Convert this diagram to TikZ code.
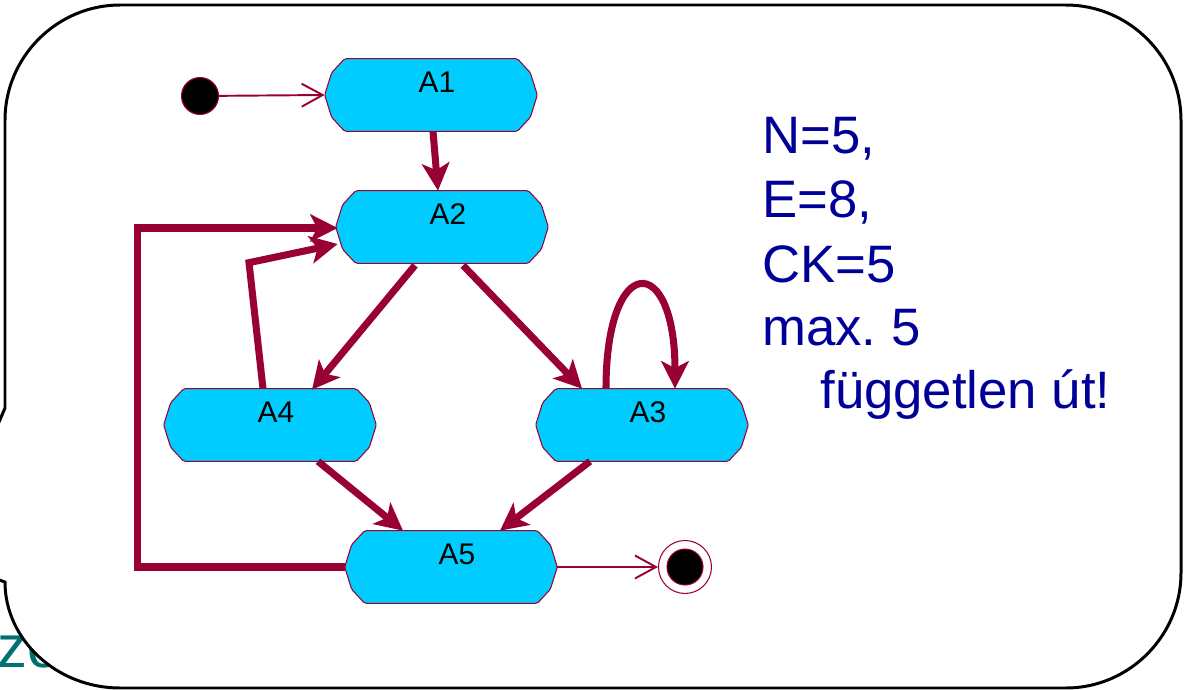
\documentclass[tikz,border=0pt]{standalone}
\usepackage{fontspec}
\setmainfont{Liberation Sans}
\usepackage{tikz}
\usepackage{xcolor}
\usetikzlibrary{arrows.meta}
\usetikzlibrary{calc}
\usetikzlibrary{backgrounds}

\definecolor{flowred}{HTML}{990033}
\definecolor{actblue}{HTML}{00CCFF}
\definecolor{statblue}{HTML}{000099}
\definecolor{bgteal}{HTML}{007070}

\tikzset{
  act/.style={inner sep=0, minimum width=4.24cm, minimum height=1.44cm,
    text height=0.66cm, text depth=0.78cm, font=\fontsize{17}{20}\selectfont,
    execute at begin node=\kern0.24cm},
  actshape/.style={draw=flowred, fill=actblue, line width=0.6pt, rounded corners=1pt},
  flow/.style={draw=flowred, line width=4pt,
    -{Stealth[length=0.55cm,width=0.55cm,inset=0.14cm]}},
  trans/.style={draw=flowred, line width=1.1pt,
    -{Straight Barb[length=0.42cm,width=0.46cm]}},
  stat/.style={anchor=base west, inner sep=0, text=statblue,
    font=\fontsize{30}{36}\selectfont}
}

\begin{document}
\begin{tikzpicture}[x=0.02cm, y=-0.02cm]
            \useasboundingbox (0,0) rectangle (1188,690);
            \clip (0,0) rectangle (1188,690);
            % activities
            \node[act] (A1) at (431,95){A1};
            \node[act] (A2) at (442,227){A2};
            \node[act] (A4) at (270,425){A4};
            \node[act] (A3) at (642,425){A3};
            \node[act] (A5) at (451,567){A5};
            \begin{scope}[on background layer]
            % slide text behind the callout
            \node[anchor=base west, inner sep=0, text=bgteal, font=\fontsize{34}{40}\selectfont] (bg) at (-3,667){zo};
            % callout
            \draw[black, line width=1.7pt, fill=white] (-60,560) -- (5,408) -- (5,120)
                .. controls (5,57) and (57,5) .. (120,5) -- (1066,5)
                .. controls (1129,5) and (1181,57) .. (1181,120) -- (1181,573)
                .. controls (1181,636) and (1129,688) .. (1066,688) -- (120,688)
                .. controls (57,688) and (5,640) .. (5,582) -- cycle;
            \foreach \n in {A1,A2,A3,A4,A5}
              \draw[actshape] ($(\n.north west)+(20,0)$) -- ($(\n.north east)+(-20,0)$)
                -- ($(\n.north east)+(-7,14)$) -- (\n.east) -- ($(\n.south east)+(-7,-14)$)
                -- ($(\n.south east)+(-20,0)$) -- ($(\n.south west)+(20,0)$)
                -- ($(\n.south west)+(7,-14)$) -- (\n.west) -- ($(\n.north west)+(7,14)$) -- cycle;
            \end{scope}
            \node[circle, draw=flowred, fill=black, line width=0.6pt, inner sep=0, minimum size=0.74cm] (ini) at (200,96){};
            \node[circle, draw=flowred, fill=white, line width=0.6pt, inner sep=0, minimum size=1.06cm] (fin) at (685,567){};
            \node[circle, draw=flowred, fill=black, line width=0.6pt, inner sep=0, minimum size=0.72cm] (finc) at (fin){};
            % transitions
            \draw[trans] (ini) -- (A1.west);
            \draw[trans] (A5.east) -- (fin.west);
            \draw[flow] ($(A1.south)+(2,0)$) -- ($(A2.north)+(-4,0)$);
            \draw[flow] ($(A2.south)+(-27,2)$) -- ($(A4.north)+(42,1)$);
            \draw[flow] ($(A2.south)+(21,2)$) -- ($(A3.north)+(-60,0)$);
            \draw[flow] ($(A3.north)+(-36,0)$) .. controls +(0,-137) and +(0,-137) .. ($(A3.north)+(33,0)$);
            \draw[flow] ($(A4.north)+(-7,0)$) -- ($(A4.north)+(-21,-126)$) -- ($(A2.west)+(2,17)$);
            \draw[flow] ($(A4.south)+(48,0)$) -- ($(A5.north)+(-48,0)$);
            \draw[flow] ($(A3.south)+(-52,0)$) -- ($(A5.north)+(49,0)$);
            \draw[flow] (A5.west) -- ++(-207,0) |- ($(A2.west)+(2,1)$);
            % numbers
            \node[stat] (N) at (762,153){N=5,};
            \node[stat] (E) at (762,217){E=8,};
            \node[stat] (CK) at (762,282){CK=5};
            \node[stat] (M) at (762,345){max.\ 5};
            \node[stat] (U) at (820,408){független út!};
\end{tikzpicture}
\end{document}
